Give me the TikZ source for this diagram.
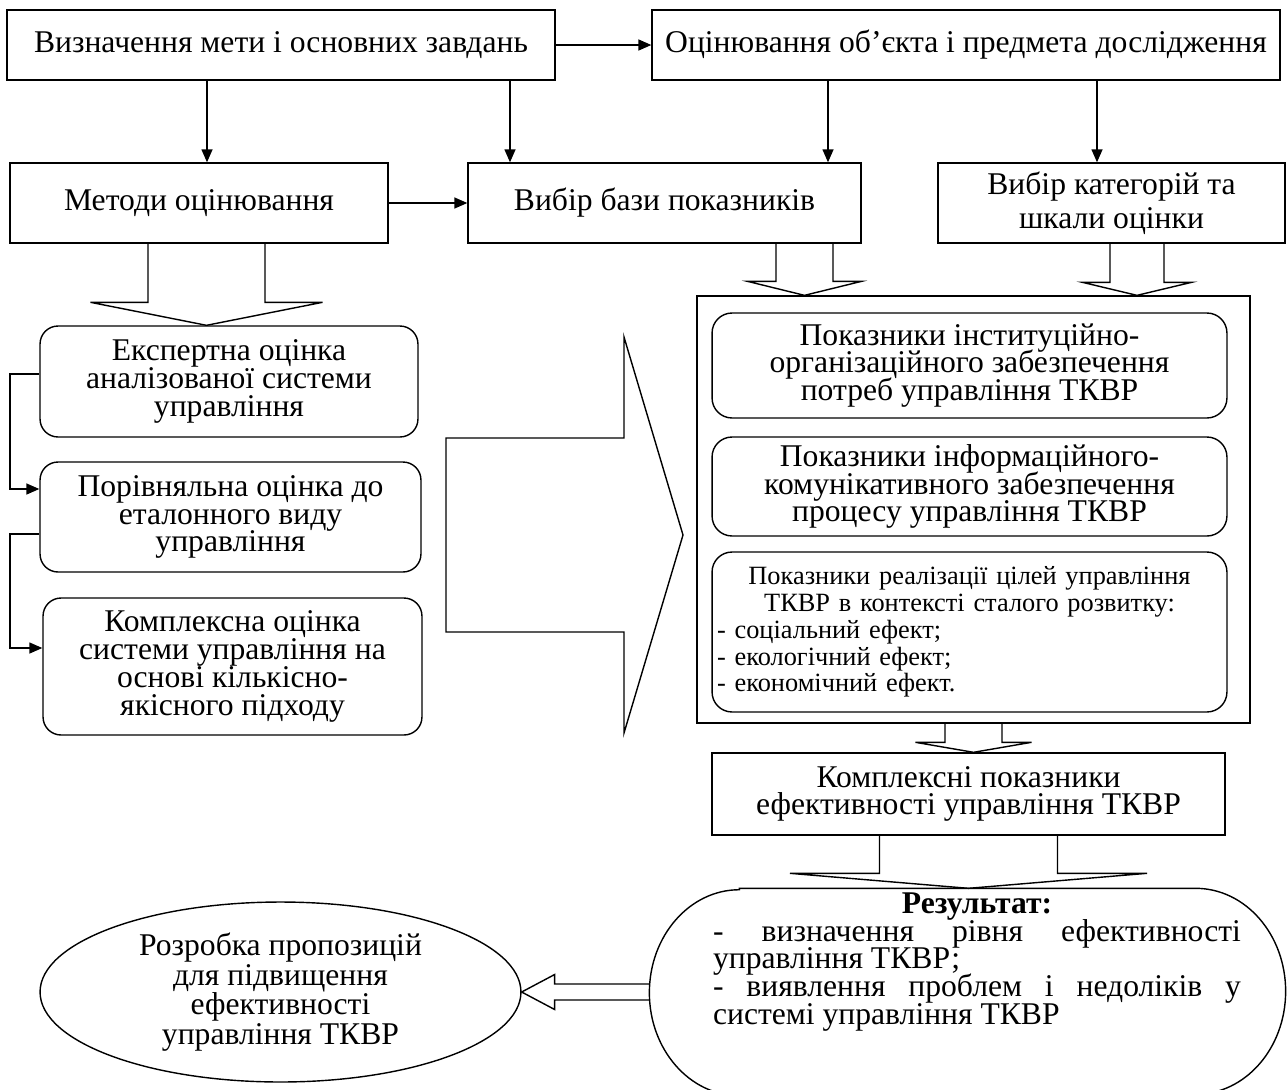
\documentclass[tikz,border=0pt]{standalone}
\usepackage{fontspec}
\setmainfont{Liberation Serif}
\usepackage{tikz}
\usetikzlibrary{arrows.meta,shapes.geometric,positioning,calc}

\newcommand{\bigfont}{\fontsize{18pt}{15.8pt}\selectfont\lineskiplimit-20pt\relax}
\newcommand{\smallfont}{\fontsize{15pt}{15.3pt}\selectfont\lineskiplimit-20pt\relax}
\newcommand{\loosefont}{\fontsize{18pt}{16.8pt}\selectfont\lineskiplimit-20pt\relax}

% hollow block arrow pointing down: #1 start point, #2 target anchor,
% #3 half shaft, #4 half head, #5 head length
\newcommand{\hollowdown}[5]{%
  \coordinate (ht) at (#1 |- #2);
  \draw ($(#1)+(-#3,0)$) -- ($(ht)+(-#3,-#5)$) -- ($(ht)+(-#4,-#5)$) -- (ht)
    -- ($(ht)+(#4,-#5)$) -- ($(ht)+(#3,-#5)$) -- ($(#1)+(#3,0)$);}

\begin{document}
\begin{tikzpicture}
  [x=0.02cm, y=-0.02cm, line width=0.8pt, font=\bigfont,
   box/.style={draw, rectangle, inner sep=2pt, align=center},
   rbox/.style={box, rounded corners=0.36cm},
   small/.style={font=\smallfont},
   post/.style={-{Triangle[length=0.26cm,width=0.22cm]}}]

  \useasboundingbox (0,0) rectangle (1288,1089);

  % top rows
  \node [box, minimum width=10.96cm, minimum height=1.4cm] (goal)
  at (281,45) {Визначення мети і основних завдань};
  \node [box, minimum width=12.56cm, minimum height=1.4cm] (object)
  at (966,45) {Оцінювання об’єкта і предмета дослідження};
  \node [box, minimum width=7.56cm, minimum height=1.6cm] (methods)
  at (199,203) {Методи оцінювання};
  \node [box, minimum width=7.86cm, minimum height=1.6cm] (base)
  at (664.5,203) {Вибір бази показників};
  \node [box, minimum width=6.94cm, minimum height=1.6cm] (categ)
  at (1111.5,203) {Вибір категорій та\\[0.12cm] шкали оцінки};

  % left column
  \node [rbox, minimum width=7.56cm, minimum height=2.22cm] (expert)
  at (229,381.5) {Експертна оцінка\\ аналізованої системи\\ управління};
  \node [rbox, minimum width=7.62cm, minimum height=2.2cm] (compare)
  at (230.5,517) {Порівняльна оцінка до\\ еталонного виду\\ управління};
  \node [rbox, minimum width=7.58cm, minimum height=2.74cm] (complex)
  at (232.5,666.5) {Комплексна оцінка\\ системи управління на\\ основі кількісно-\\ якісного підходу};

  % right panel
  \node [box, minimum width=11.06cm, minimum height=8.54cm] (panel)
  at (973.5,509.5) {};
  \node [rbox, rounded corners=0.4cm, minimum width=10.3cm, minimum height=2.1cm]
  (inst) at (969.5,365.5) {Показники інституційно-\\ організаційного забезпечення\\ потреб управління ТКВР};
  \node [rbox, rounded corners=0.4cm, minimum width=10.3cm, minimum height=1.98cm]
  (info) at (969.5,486.5) {Показники інформаційного-\\ комунікативного забезпечення\\ процесу управління ТКВР};
  \node [rbox, small, rounded corners=0.4cm, minimum width=10.3cm, minimum height=3.2cm,
  text width=10.1cm, align=left] (aims) at (969.5,632)
  {{\centering Показники реалізації цілей управління\\ ТКВР в контексті сталого розвитку:\par}
   \noindent - соціальний ефект;\\ - екологічний ефект;\\ - економічний ефект.};

  \node [box, minimum width=10.26cm, minimum height=1.64cm] (overall)
  at (968.5,794) {Комплексні показники\\ ефективності управління ТКВР};

  % bottom
  \node [minimum width=12.7cm, minimum height=4.12cm, inner sep=0pt] (result)
  at (967.5,992) {};
  \draw ([xshift=1.8cm]result.north west) -- ([xshift=-1.8cm]result.north east)
    arc[start angle=90, end angle=-90, x radius=1.8cm, y radius=2.06cm]
    -- ([xshift=1.8cm]result.south west)
    arc[start angle=270, end angle=90, x radius=1.8cm, y radius=2.06cm] -- cycle;
  \node [text width=10.56cm, inner sep=0pt, align=justify] (restext) at (977,962)
  {{\centering\textbf{Результат:}\par}
   \noindent - визначення рівня ефективності\linebreak управління ТКВР;\par
   \noindent - виявлення проблем і недоліків у\linebreak системі управління ТКВР};

  \node [draw, ellipse, minimum width=9.62cm, minimum height=3.6cm, inner sep=0pt,
  align=center, font=\loosefont] (proposal) at (280.5,992)
  {Розробка пропозицій\\ для підвищення\\ ефективності\\ управління ТКВР};

  % connectors
  \draw [post] (goal.east) -- (object.west);
  \draw [post] (207,0 |- goal.south) -- (207,0 |- methods.north);
  \draw [post] (510,0 |- goal.south) -- (510,0 |- base.north);
  \draw [post] (828,0 |- object.south) -- (828,0 |- base.north);
  \draw [post] (1097,0 |- object.south) -- (1097,0 |- categ.north);
  \draw [post] (methods.east) -- (base.west);

  \draw [post] (expert.west |- 0,374) -- (10,374) |- (compare.west |- 0,489);
  \draw [post] (compare.west |- 0,534) -- (10,534) |- (complex.west |- 0,648);

  \coordinate (a1) at (206.5,0 |- methods.south);
  \hollowdown{a1}{expert.north}{58.5}{116}{23}
  \coordinate (b1) at (804.5,0 |- base.south);
  \hollowdown{b1}{panel.north}{28.5}{57}{14}
  \coordinate (c1) at (1137,0 |- categ.south);
  \hollowdown{c1}{panel.north}{27}{54.5}{13}
  \hollowdown{panel.south}{overall.north}{28.5}{58}{10}
  \hollowdown{overall.south}{result.north}{89}{178.5}{15}

  % big arrow towards the panel
  \draw (446,438) -- (624,438) -- (624,337) -- (683,535) -- (624,733)
    -- (624,632) -- (446,632) -- cycle;

  \draw ($(result.west)+(0,-8)$) -- ($(proposal.east)+(33,-8)$)
    -- ($(proposal.east)+(33,-17.5)$) -- (proposal.east)
    -- ($(proposal.east)+(33,17.5)$) -- ($(proposal.east)+(33,8)$)
    -- ($(result.west)+(0,8)$);
\end{tikzpicture}
\end{document}
